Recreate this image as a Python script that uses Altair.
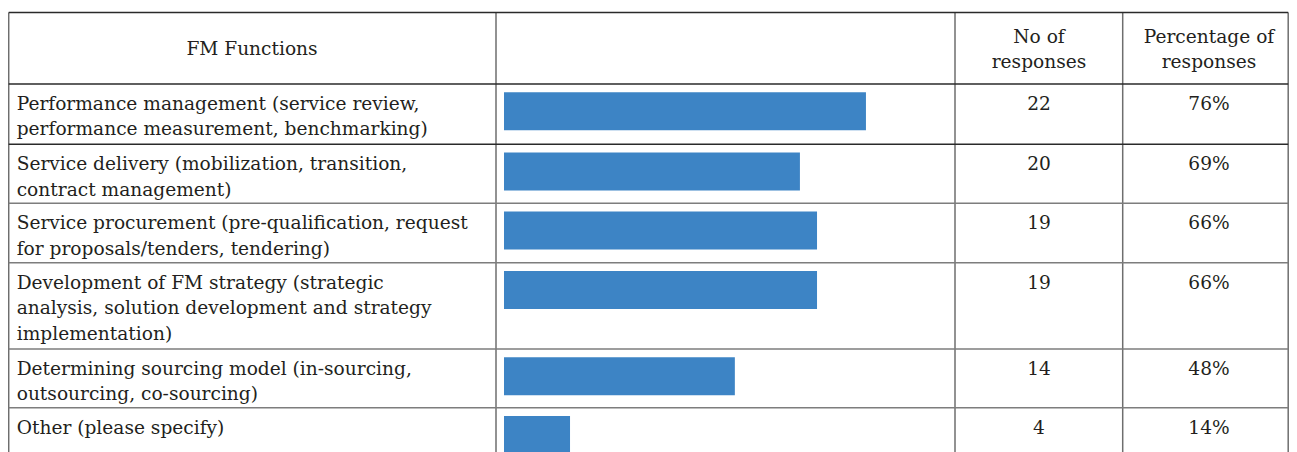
import altair as alt
import pandas as pd

# ---------------- data ----------------
functions = [
    ["Performance management (service review,", "performance measurement, benchmarking)"],
    ["Service delivery (mobilization, transition,", "contract management)"],
    ["Service procurement (pre-qualification, request", "for proposals/tenders, tendering)"],
    ["Development of FM strategy (strategic", "analysis, solution development and strategy", "implementation)"],
    ["Determining sourcing model (in-sourcing,", "outsourcing, co-sourcing)"],
    ["Other (please specify)"],
]
responses = [22, 20, 19, 19, 14, 4]
percentages = ["76%", "69%", "66%", "66%", "48%", "14%"]
# bar lengths as drawn (percentage units)
bar_lengths = [76.2, 62.3, 65.9, 65.9, 48.6, 13.9]
header_labels = [["FM Functions"], [], ["No of", "responses"], ["Percentage of", "responses"]]

# ---------------- layout ----------------
W, H = 1281, 444
col_edges = [0.7, 488, 947, 1114.7, 1280.2]
col_centers = [244, 717, 1031, 1201]
table_top = 4.5
header_h = 71.5
row_heights = [60.3, 59, 59.4, 86.3, 58.7, 60]
bar_x0, px_per_pct = 496, 4.75
line_gap = 25.5
FONT = "DejaVu Serif"
FS = 18.6
TXT = "#231f20"

row_tops = []
y = table_top + header_h
for h in row_heights:
    row_tops.append(y)
    y += h

# grid lines
hlines = [{"x": col_edges[0], "x2": col_edges[-1], "y": table_top, "c": "dark"},
          {"x": col_edges[0], "x2": col_edges[-1], "y": table_top + header_h, "c": "dark"}]
for i, t in enumerate(row_tops[1:]):
    hlines.append({"x": col_edges[0], "x2": col_edges[-1], "y": t, "c": "dark" if i == 0 else "gray"})
vlines = [{"x": cx, "y": table_top, "y2": H} for cx in col_edges]
hdf = pd.DataFrame(hlines)
vdf = pd.DataFrame(vlines)

# bars
bars = pd.DataFrame({
    "v": bar_lengths,
    "y": [t + 8.3 for t in row_tops],
    "y2": [t + 46.3 for t in row_tops],
})

# text
left_rows = []
for t, lines in zip(row_tops, functions):
    for i, s in enumerate(lines):
        left_rows.append({"x": col_edges[0] + 8, "y": t + 25.8 + i * line_gap, "t": s})
center_rows = []
for t, n, p in zip(row_tops, responses, percentages):
    center_rows.append({"x": col_centers[2], "y": t + 25.8, "t": str(n)})
    center_rows.append({"x": col_centers[3], "y": t + 25.8, "t": p})
for ci, lines in enumerate(header_labels):
    n = len(lines)
    for i, s in enumerate(lines):
        center_rows.append({"x": col_centers[ci],
                            "y": table_top + 42.5 + (i - (n - 1) / 2) * 25, "t": s})
ldf = pd.DataFrame(left_rows)
cdf = pd.DataFrame(center_rows)

xs = alt.Scale(domain=[0, W], range=[0, W], nice=False, zero=False)
ys = alt.Scale(domain=[0, H], range=[0, H], nice=False, zero=False)
col_scale = alt.Scale(domain=["dark", "gray"], range=["#2a2a2a", "#7d7d7d"])

h_layer = alt.Chart(hdf).mark_rule(strokeWidth=1.5).encode(
    x=alt.X("x:Q", scale=xs, axis=None),
    x2="x2:Q",
    y=alt.Y("y:Q", scale=ys, axis=None),
    color=alt.Color("c:N", scale=col_scale, legend=None),
)
v_layer = alt.Chart(vdf).mark_rule(strokeWidth=1.5, color="#6e6e6e").encode(
    x=alt.X("x:Q", scale=xs, axis=None),
    y=alt.Y("y:Q", scale=ys, axis=None),
    y2="y2:Q",
)
bar_layer = alt.Chart(bars).mark_bar(color="#3d84c5").encode(
    x=alt.X("v:Q", scale=alt.Scale(domain=[0, 100], range=[bar_x0, bar_x0 + 100 * px_per_pct],
                                   nice=False, zero=True), axis=None),
    x2=alt.value(bar_x0),
    y=alt.Y("y:Q", scale=ys, axis=None),
    y2="y2:Q",
)
left_text = alt.Chart(ldf).mark_text(align="left", baseline="alphabetic", font=FONT,
                                     fontSize=FS, color=TXT).encode(
    x=alt.X("x:Q", scale=xs, axis=None),
    y=alt.Y("y:Q", scale=ys, axis=None),
    text="t:N",
)
center_text = alt.Chart(cdf).mark_text(align="center", baseline="alphabetic", font=FONT,
                                       fontSize=FS, color=TXT).encode(
    x=alt.X("x:Q", scale=xs, axis=None),
    y=alt.Y("y:Q", scale=ys, axis=None),
    text="t:N",
)

chart = alt.layer(v_layer, h_layer, bar_layer, left_text, center_text).resolve_scale(
    x="independent", color="independent"
).properties(
    width=W, height=H, padding=0, autosize=alt.AutoSizeParams(type="none")
).configure_view(stroke=None)

chart.save("out.html", embed_options={"renderer": "svg", "actions": False})
